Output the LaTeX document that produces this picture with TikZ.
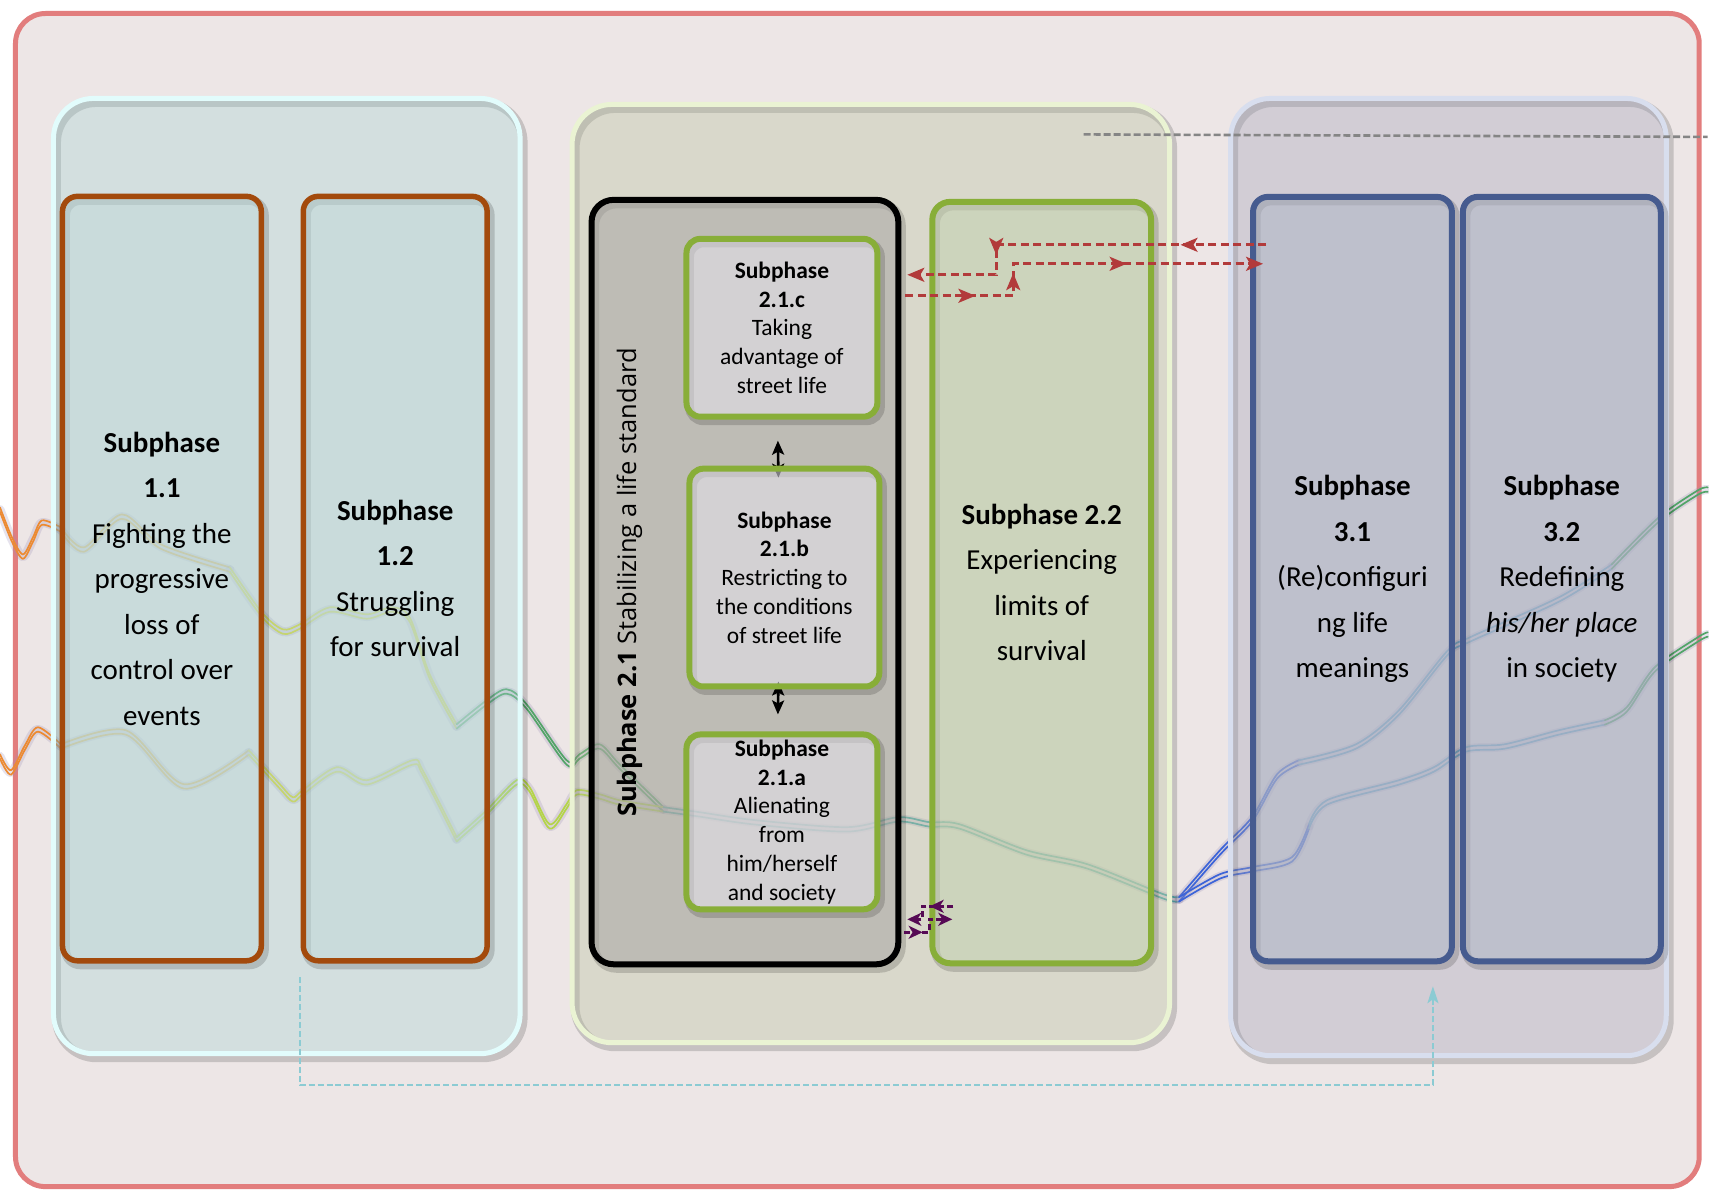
\documentclass[tikz,border=0pt]{standalone}
\usepackage{fontspec}
\setmainfont{Carlito}
\newfontfamily\rotfont{Open Sans}
\usetikzlibrary{arrows.meta,decorations.markings,calc}
\pgfdeclarelayer{back}
\pgfdeclarelayer{mid}
\pgfsetlayers{back,mid,main}
\definecolor{bgc}{HTML}{EDE6E6}
\definecolor{framec}{HTML}{E27D7D}
\definecolor{pafill}{HTML}{A3D2D2}
\definecolor{paline}{HTML}{E2FCFC}
\definecolor{bafill}{HTML}{C1D9D9}
\definecolor{brownc}{HTML}{A34A0C}
\definecolor{pbfill}{HTML}{B4BE99}
\definecolor{pbline}{HTML}{EAF3D3}
\definecolor{blkfill}{HTML}{A8A6A4}
\definecolor{gfill}{HTML}{E5E3EC}
\definecolor{greenc}{HTML}{88AE38}
\definecolor{bbfill}{HTML}{C3D1B0}
\definecolor{pcfill}{HTML}{A0A1B8}
\definecolor{pcline}{HTML}{D8DEEE}
\definecolor{bcfill}{HTML}{AFB6C6}
\definecolor{bluec}{HTML}{465B8F}
\definecolor{redc}{HTML}{B23B3B}
\definecolor{purplec}{HTML}{560A55}
\definecolor{tealc}{HTML}{8CCBD3}
\definecolor{grayc}{HTML}{858585}
\definecolor{glowc}{HTML}{9C90B8}
\definecolor{sorange}{HTML}{EC8A32}
\definecolor{slorange}{HTML}{E4B050}
\definecolor{syellow}{HTML}{D8D63A}
\definecolor{sygreen}{HTML}{B4D448}
\definecolor{sgreen}{HTML}{52A468}
\definecolor{steal}{HTML}{5AAAAE}
\definecolor{sblue}{HTML}{3C64D8}
\definecolor{sltblue}{HTML}{6AAAC8}
\newcommand\strandseg[2]{%
  \draw[draw=glowc, line width=9pt, opacity=0.25, line cap=round, line join=round] plot[smooth] coordinates {#2};
  \draw[draw=#1, line width=1.7pt, yshift=2.2pt, line cap=round] plot[smooth] coordinates {#2};
  \draw[draw=#1, line width=1.7pt, yshift=-2.2pt, line cap=round] plot[smooth] coordinates {#2};
}
\tikzset{
  rtip/.tip={Stealth[length=17pt,width=14pt,inset=4pt]},
  ptip/.tip={Stealth[length=14pt,width=13pt,inset=4pt]},
  btip/.tip={Stealth[length=14pt,width=12pt,inset=3pt]},
  ttip/.tip={Stealth[length=17pt,width=11pt,inset=4pt]},
}
\begin{document}
\begin{tikzpicture}[x=1pt,y=-1pt,
  shadowed/.style={preaction={draw=black, draw opacity=0.16, line width=9pt,
     transform canvas={xshift=3pt,yshift=-4pt}}},
  container/.style={shadowed, draw, line width=5pt, rounded corners=40pt, fill opacity=0.35, inner sep=0pt},
  box/.style={shadowed, draw, line width=5.5pt, rounded corners=15pt, fill opacity=0.55, text opacity=1,
    inner sep=0pt, align=center, font=\fontsize{29}{45.5}\selectfont},
  smallbox/.style={box, line width=6pt, rounded corners=14pt, fill=gfill, draw=greenc,
    font=\fontsize{23.5}{28.8}\selectfont},
  reddash/.style={draw=redc, line width=2.8pt, dash pattern=on 8pt off 4.5pt},
  purpledash/.style={draw=purplec, line width=2.8pt, dash pattern=on 6pt off 3pt},
  blkarrow/.style={draw=black, line width=2.6pt, {btip}-{btip}},
]
\begin{pgfonlayer}{back}
% canvas
\path[fill=white] (0,0) rectangle (1709,1197);
\useasboundingbox (0,0) rectangle (1709,1197);
\draw[fill=bgc, draw=framec, line width=5pt, rounded corners=30pt] (15.5,13.5) rectangle (1700.5,1187.5);

% trajectory strands
\strandseg{sorange}{(0,510) (12,540) (23,557) (33,540) (42,523) (61,530)}
\strandseg{slorange}{(61,530) (84,550) (122,517) (161,547) (230,570)}
\strandseg{syellow}{(230,570) (262,615) (283,632) (300,627) (330,610) (367,617) (392,610) (410,620) (430,677) (457,727)}
\strandseg{sgreen}{(457,727) (487,703) (507,692) (527,707) (567,763) (580,757) (600,747) (620,767) (664,810)}
\strandseg{sorange}{(0,757) (11,773) (25,748) (38,730) (61,747)}
\strandseg{slorange}{(61,747) (126,733) (184,787) (249,753)}
\strandseg{syellow}{(249,753) (280,787) (293,800) (303,793) (337,770) (367,783) (413,763) (423,773) (457,840)}
\strandseg{sygreen}{(457,840) (487,813) (517,783) (530,790) (550,827) (567,807) (577,793) (600,797) (620,803) (664,810)}
\strandseg{steal}{(664,810) (700,815) (756,823) (848,830) (899,820) (930,825) (960,827) (1027,853) (1088,867) (1164,897) (1180,900)}
\strandseg{sblue}{(1180,900) (1221,853) (1253,820) (1278,777) (1300,763)}
\strandseg{sltblue}{(1300,763) (1357,747) (1400,713) (1449,653) (1471,640) (1560,600) (1613,567)}
\strandseg{sgreen}{(1613,567) (1660,520) (1699,493) (1709,490)}
\strandseg{sblue}{(1180,900) (1221,877) (1253,870) (1293,860) (1310,827)}
\strandseg{sltblue}{(1310,827) (1328,803) (1400,783) (1435,770) (1467,750) (1506,747) (1560,733) (1606,723)}
\strandseg{sgreen}{(1606,723) (1628,710) (1656,670) (1699,640) (1709,635)}

% phase containers
\node[container, fill=pafill, draw=paline, minimum width=467pt, minimum height=956pt] (p1) at (287,576.5) {};
\node[container, fill=pbfill, draw=pbline, minimum width=598pt, minimum height=939pt] (p2) at (871.5,574) {};
\node[container, fill=pcfill, draw=pcline, minimum width=436pt, minimum height=958pt] (p3) at (1449.5,577.5) {};

% phase 1
\node[box, fill=bafill, draw=brownc, minimum width=199pt, minimum height=765pt] (b11) at (162,579)
  {\textbf{Subphase}\\\textbf{1.1}\\Fighting the\\progressive\\loss of\\control over\\events};
\node[box, fill=bafill, draw=brownc, minimum width=184pt, minimum height=765pt] (b12) at (395.5,579)
  {\textbf{Subphase}\\\textbf{1.2}\\Struggling\\for survival};

% phase 2 outer box
\node[box, fill=blkfill, draw=black, line width=6pt, rounded corners=22pt, minimum width=307pt, minimum height=765pt] (b21) at (745.5,582.5) {};
\node[rotate=90, font=\rotfont\fontsize{25.5}{30}\selectfont] (t21) at (630,583)
  {\textbf{Subphase 2.1} Stabilizing a life standard};
\end{pgfonlayer}

% phase 2 inner boxes
\node[smallbox, minimum width=191pt, minimum height=178pt] (b21c) at (782.5,328)
  {\textbf{Subphase}\\\textbf{2.1.c}\\Taking\\advantage of\\street life};
\node[smallbox, minimum width=190pt, minimum height=218pt] (b21b) at (785,578)
  {\textbf{Subphase}\\\textbf{2.1.b}\\Restricting to\\the conditions\\of street life};
\node[smallbox, minimum width=191pt, minimum height=175pt] (b21a) at (782.5,822.5)
  {\textbf{Subphase}\\\textbf{2.1.a}\\Alienating\\from\\him/herself\\and society};
\begin{pgfonlayer}{mid}
\draw[blkarrow] ($(b21b.north)+(-6,12)$) -- ($(b21c.south)+(-4,21)$);
\draw[blkarrow] ($(b21b.south)+(-6,-8)$) -- ($(b21a.north)+(-4,-17)$);
\end{pgfonlayer}
\node[box, fill=bbfill, draw=greenc, line width=6pt, rounded corners=18pt, minimum width=219pt, minimum height=762pt] (b22) at (1042.5,583)
  {\textbf{Subphase 2.2}\\Experiencing\\limits of\\survival};

% phase 3
\node[box, fill=bcfill, draw=bluec, line width=6pt, minimum width=199pt, minimum height=765pt] (b31) at (1353.5,579.5)
  {\textbf{Subphase}\\\textbf{3.1}\\(Re)configuri\\ng life\\meanings};
\node[box, fill=bcfill, draw=bluec, line width=6pt, minimum width=198pt, minimum height=765pt] (b32) at (1563,579.5)
  {\textbf{Subphase}\\\textbf{3.2}\\Redefining\\\textit{his/her place}\\in society};

% red dashed connectors between 2.1 and 3.1
\coordinate (ra) at (997,245);
\coordinate (rb) at (997,275);
\coordinate (rc) at (1014,296);
\coordinate (rd) at (1014,264);
\draw[reddash, -{rtip},
  postaction={decorate, decoration={markings,
    mark=at position 0.22 with {\arrow[redc]{rtip}},
    mark=at position 0.72 with {\arrow[redc]{rtip}}}}]
  ($(b31.west |- ra)+(16,0)$) -- (ra) -- (rb) -- ($(b21.east |- rb)+(6,0)$);
\draw[reddash, -{rtip},
  postaction={decorate, decoration={markings,
    mark=at position 0.18 with {\arrow[redc]{rtip}},
    mark=at position 0.335 with {\arrow[redc]{rtip}},
    mark=at position 0.65 with {\arrow[redc]{rtip}}}}]
  ($(b21.east |- rc)+(4,0)$) -- (rc) -- (rd) -- ($(b31.west |- rd)+(13,0)$);

% purple dashed connectors between 2.1 and 2.2
\coordinate (pa) at (930,933);
\coordinate (pb) at (930,920);
\coordinate (pc) at (923,907);
\coordinate (pd) at (923,920);
\draw[purpledash, -{ptip},
  postaction={decorate, decoration={markings,
    mark=at position 0.3 with {\arrow[purplec]{ptip}}}}]
  ($(b21.east |- pa)+(3,0)$) -- (pa) -- (pb) -- ($(b22.west |- pb)+(23,0)$);
\draw[purpledash, -{ptip},
  postaction={decorate, decoration={markings,
    mark=at position 0.4 with {\arrow[purplec]{ptip}}}}]
  ($(b22.west |- pc)+(24,0)$) -- (pc) -- (pd) -- ($(b21.east |- pd)+(6,0)$);

% teal dashed connector from 1.2 to 3.1
\draw[draw=tealc, line width=2.3pt, dash pattern=on 6pt off 3pt, -{ttip}]
  ($(b12.south)+(-95.5,13.5)$) |- ($(b31.south)+(80.5,121)$) -- ($(b31.south)+(80.5,22)$);

% gray dashed line
\coordinate (gend) at (1709,137);
\draw[draw=grayc, line width=2.6pt, dash pattern=on 7pt off 3pt] ($(p2.north east)+(-88.5,32.5)$) -- (gend);
\end{tikzpicture}
\end{document}
